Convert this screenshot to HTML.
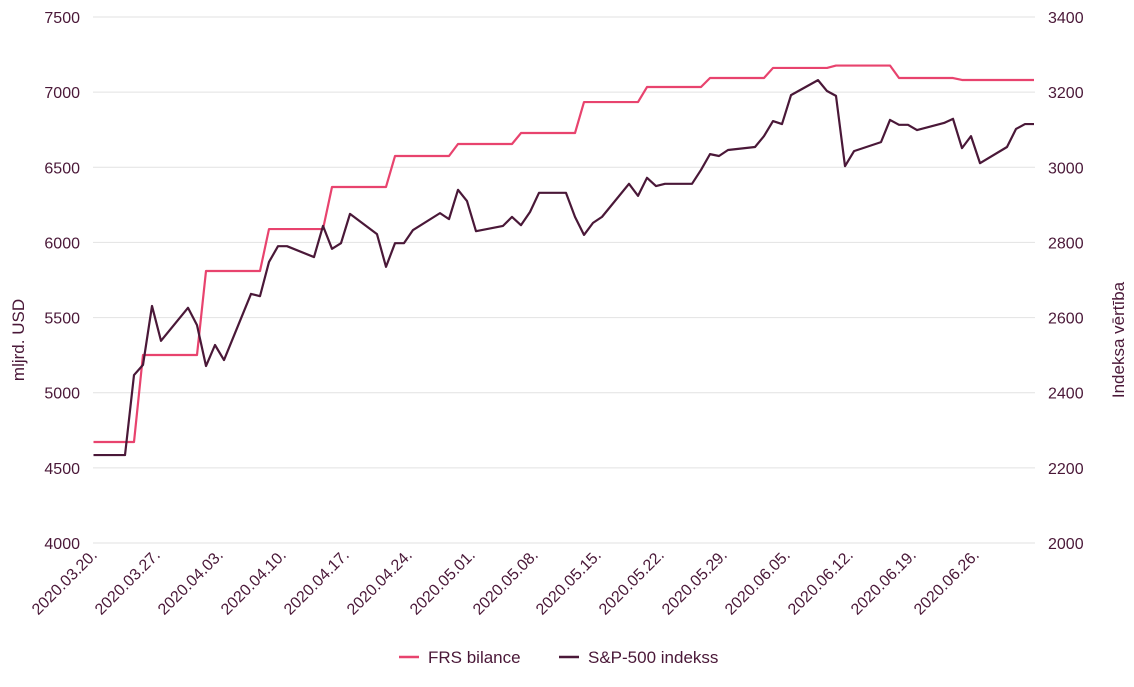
<!DOCTYPE html>
<html><head><meta charset="utf-8"><style>
body{margin:0;background:#fff;}
svg text{font-family:"Liberation Sans",sans-serif;fill:#4a1838;}
</style></head><body>
<svg id="chart" width="1134" height="682" xmlns="http://www.w3.org/2000/svg">
<g id="grid"></g>
<g id="yl"></g>
<g id="yr"></g>
<g id="xa"></g>
<text transform="translate(24,340) rotate(-90)" text-anchor="middle" font-size="17">mljrd. USD</text>
<text transform="translate(1124,340) rotate(-90)" text-anchor="middle" font-size="17">Indeksa vērtība</text>
<g id="series"></g>
<g>
<g><line x1="399" y1="657" x2="419" y2="657" stroke="#e8436e" stroke-width="2.5"/><text x="428" y="663" font-size="17">FRS bilance</text></g>
<g><line x1="559" y1="657" x2="579" y2="657" stroke="#4a1838" stroke-width="2.5"/><text x="588" y="663" font-size="17">S&amp;P-500 indekss</text></g>
</g>
</svg>
<script>
const xTickLabels=["2020.03.20.","2020.03.27.","2020.04.03.","2020.04.10.","2020.04.17.","2020.04.24.","2020.05.01.","2020.05.08.","2020.05.15.","2020.05.22.","2020.05.29.","2020.06.05.","2020.06.12.","2020.06.19.","2020.06.26."];
const leftTicks=[4000,4500,5000,5500,6000,6500,7000,7500];
const rightTicks=[2000,2200,2400,2600,2800,3000,3200,3400];
const frsWeekly=[4672,5251,5810,6089,6369,6575,6655,6728,6934,7034,7094,7161,7177,7094,7081];
const spDays=[-0.5,3,4,5,6,7,10,11,12,13,14,17,18,19,20,21,24,25,26,27,28,31,32,33,34,35,38,39,40,41,42,45,46,47,48,49,52,53,54,55,56,59,60,61,62,63,66,67,68,69,70,73,74,75,76,77,80,81,82,83,84,87,88,89,90,91,94,95,96,97,98,101,102,103,104];
const spValues=[2234,2234,2447,2474,2631,2538,2626,2580,2471,2527,2487,2663,2657,2748,2790,2790,2761,2844,2783,2798,2876,2822,2735,2798,2798,2833,2878,2862,2940,2910,2830,2844,2868,2846,2881,2932,2932,2868,2820,2852,2868,2956,2924,2972,2950,2956,2956,2993,3035,3030,3046,3054,3083,3123,3115,3192,3232,3203,3190,3003,3043,3067,3126,3113,3113,3099,3118,3129,3051,3083,3011,3054,3102,3115,3115];

const NS="http://www.w3.org/2000/svg";
const X0=93,X1=1035,Y0=543,Y1=17;
const x=d=>98+9*d;
const yL=v=>Y0-(v-4000)/(7500-4000)*(Y0-Y1);
const yR=v=>Y0-(v-2000)/(3400-2000)*(Y0-Y1);
function mk(tag,attrs,parent){const e=document.createElementNS(NS,tag);for(const k in attrs)e.setAttribute(k,attrs[k]);parent.appendChild(e);return e;}
const grid=document.getElementById('grid'),yl=document.getElementById('yl'),yr=document.getElementById('yr'),xa=document.getElementById('xa'),ser=document.getElementById('series');
leftTicks.forEach(v=>{
 const g=mk('line',{x1:X0,x2:X1,y1:yL(v),y2:yL(v),stroke:'#e2e2e2','stroke-width':1},grid);
 
 
 const t=mk('text',{x:80,y:yL(v)+6,'text-anchor':'end','font-size':16},yl);t.textContent=v;
 
 
});
rightTicks.forEach(v=>{
 const t=mk('text',{x:1048,y:yR(v)+6,'font-size':16},yr);t.textContent=v;
 
 
});
xTickLabels.forEach((s,i)=>{
 const t=mk('text',{transform:`translate(${x(i*7)},556) rotate(-45)`,'text-anchor':'end','font-size':16},xa);t.textContent=s;
 
 
});
// FRS steps
let fp=[[ -0.5,frsWeekly[0]]];
for(let k=0;k<frsWeekly.length;k++){
 if(k>0)fp.push([7*(k-1)+5,frsWeekly[k]]);
 if(k<frsWeekly.length-1)fp.push([7*k+4,frsWeekly[k]]);else fp.push([104,frsWeekly[k]]);
}
const frs=mk('polyline',{points:fp.map(p=>x(p[0])+','+yL(p[1])).join(' '),fill:'none',stroke:'#e8436e','stroke-width':2.2,'stroke-linejoin':'round'},ser);


const sp=mk('polyline',{points:spDays.map((d,i)=>x(d)+','+yR(spValues[i])).join(' '),fill:'none',stroke:'#4a1838','stroke-width':2.2,'stroke-linejoin':'round'},ser);


</script>
</body></html>
